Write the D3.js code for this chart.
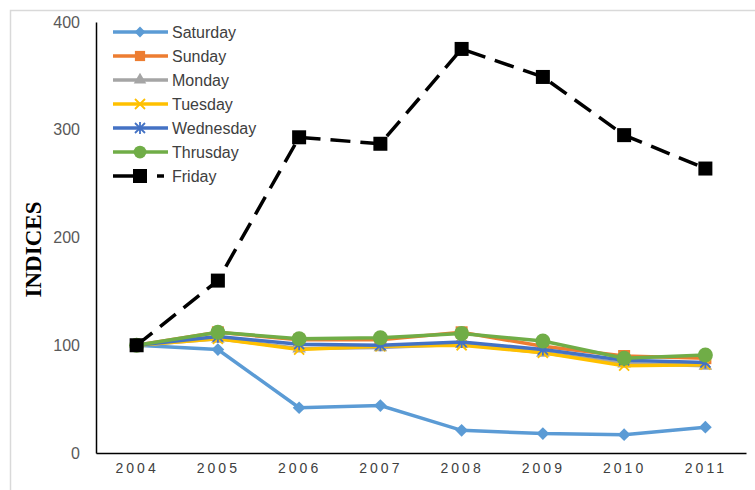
<!DOCTYPE html>
<html>
<head>
<meta charset="utf-8">
<script src="https://cdn.jsdelivr.net/npm/d3@7"></script>
<style>
  body { margin: 0; background: #fff; }
  text { font-family: "Liberation Sans", "Noto Sans", sans-serif; }
</style>
</head>
<body>
<svg width="755" height="490"></svg>
<script>
// chart data
var years = ["2004", "2005", "2006", "2007", "2008", "2009", "2010", "2011"];
var yTicks = [0, 100, 200, 300, 400];

var saturday  = [100, 96, 42, 44, 21, 18, 17, 24];
var sunday    = [100, 112, 105, 105, 112, 99, 90, 88];
var monday    = [100, 106, 97, 98, 101, 93, 83, 81];
var tuesday   = [100, 106, 96, 99, 100, 93, 81, 82];
var wednesday = [100, 108, 101, 100, 103, 96, 86, 84];
var thrusday  = [100, 112, 106, 107, 111, 104, 88, 91];
var friday    = [100, 160, 293, 287, 375, 349, 295, 264];

var series = [
  {name: "Saturday",  values: saturday,  color: "#5B9BD5", marker: "diamond"},
  {name: "Sunday",    values: sunday,    color: "#ED7D31", marker: "square"},
  {name: "Monday",    values: monday,    color: "#A5A5A5", marker: "triangle"},
  {name: "Tuesday",   values: tuesday,   color: "#FFC000", marker: "x"},
  {name: "Wednesday", values: wednesday, color: "#4472C4", marker: "star"},
  {name: "Thrusday",  values: thrusday,  color: "#70AD47", marker: "circle"},
  {name: "Friday",    values: friday,    color: "#000000", marker: "bigsquare", dash: "20,10"}
];

var svg = d3.select("svg"),
    margin = {top: 22, right: 9, bottom: 37, left: 96},
    w = +svg.attr("width") - margin.left - margin.right,
    h = +svg.attr("height") - margin.top - margin.bottom;

// outer frame (only top and left show)
svg.append("rect")
  .attr("x", 10.5).attr("y", 10.5)
  .attr("width", 800).attr("height", 800)
  .attr("fill", "none")
  .attr("stroke", "#d9d9d9")
  .attr("stroke-width", 1.5);

var x = d3.scalePoint().domain(years).range([0, w]).padding(0.5),
    y = d3.scaleLinear().domain([0, 400]).range([h, 0]);

var g = svg.append("g")
  .attr("transform", "translate(" + margin.left + "," + margin.top + ")");

// y axis
var yAxis = g.append("g")
  .call(d3.axisLeft(y).tickValues(yTicks).tickSize(0).tickPadding(16));
yAxis.select(".domain").attr("stroke", "#000").attr("stroke-width", 1.5);
yAxis.selectAll("text")
  .attr("fill", "#595959")
  .style("font-size", "16px");

// x axis
var xAxis = g.append("g")
  .attr("transform", "translate(0," + h + ")")
  .call(d3.axisBottom(x).tickSize(0).tickPadding(10));
xAxis.select(".domain").attr("stroke", "#000").attr("stroke-width", 1.5);
xAxis.selectAll("text")
  .attr("fill", "#404040")
  .style("font-size", "14px")
  .style("letter-spacing", "3px");

// y axis title
svg.append("text")
  .attr("transform", "translate(41," + (margin.top + h / 2 + 12) + ") rotate(-90)")
  .attr("text-anchor", "middle")
  .style("font-family", "'Liberation Serif', 'DejaVu Serif', serif")
  .style("font-weight", "bold")
  .style("font-size", "23px")
  .attr("fill", "#000")
  .text("INDICES");

// marker drawing
function drawMarker(sel, type, color, s) {
  s = s || 1;
  if (type === "diamond") {
    sel.append("rect").attr("x", -4.5 * s).attr("y", -4.5 * s).attr("width", 9 * s).attr("height", 9 * s)
      .attr("transform", "rotate(45)").attr("fill", color);
  } else if (type === "square") {
    sel.append("rect").attr("x", -6 * s).attr("y", -6 * s).attr("width", 12 * s).attr("height", 12 * s).attr("fill", color);
  } else if (type === "triangle") {
    sel.append("path").attr("d", d3.symbol(d3.symbolTriangle, 80 * s)()).attr("fill", color);
  } else if (type === "x") {
    sel.append("path").attr("d", "M-5,-5L5,5M-5,5L5,-5").attr("stroke", color).attr("stroke-width", 1.8);
  } else if (type === "star") {
    sel.append("path").attr("d", "M-5,-5L5,5M-5,5L5,-5M0,-6L0,6").attr("stroke", color).attr("stroke-width", 1.8);
  } else if (type === "circle") {
    sel.append("circle").attr("r", 7.5 * s).attr("fill", color);
  } else if (type === "bigsquare") {
    sel.append("rect").attr("x", -7).attr("y", -7).attr("width", 14).attr("height", 14).attr("fill", color);
  }
}

var line = d3.line()
  .x(function(d, i) { return x(years[i]); })
  .y(function(d) { return y(d); });

// series lines and markers
series.forEach(function(s) {
  g.append("path")
    .datum(s.values)
    .attr("fill", "none")
    .attr("stroke", s.color)
    .attr("stroke-width", 3.5)
    .attr("stroke-dasharray", s.dash || null)
    .attr("d", line);

  g.selectAll(".m-" + s.marker)
    .data(s.values)
    .enter()
    .append("g")
    .attr("class", "m-" + s.marker)
    .attr("transform", function(d, i) { return "translate(" + x(years[i]) + "," + y(d) + ")"; })
    .each(function() { drawMarker(d3.select(this), s.marker, s.color); });
});

// legend
var legend = svg.append("g").attr("transform", "translate(113,32)");
series.forEach(function(s, i) {
  var row = legend.append("g").attr("transform", "translate(0," + (i * 24) + ")");
  if (s.dash) {
    row.append("line").attr("x1", 0).attr("x2", 28).attr("stroke", s.color).attr("stroke-width", 3.5);
    row.append("line").attr("x1", 44).attr("x2", 51).attr("stroke", s.color).attr("stroke-width", 3.5);
  } else {
    row.append("line").attr("x1", 0).attr("x2", 55).attr("stroke", s.color).attr("stroke-width", 3.5);
  }
  var m = row.append("g").attr("transform", "translate(27,0)");
  drawMarker(m, s.marker, s.color, 0.85);
  row.append("text")
    .attr("x", 59).attr("y", 5.5)
    .attr("fill", "#404040")
    .style("font-size", "16px")
    .text(s.name);
});
</script>
</body>
</html>
